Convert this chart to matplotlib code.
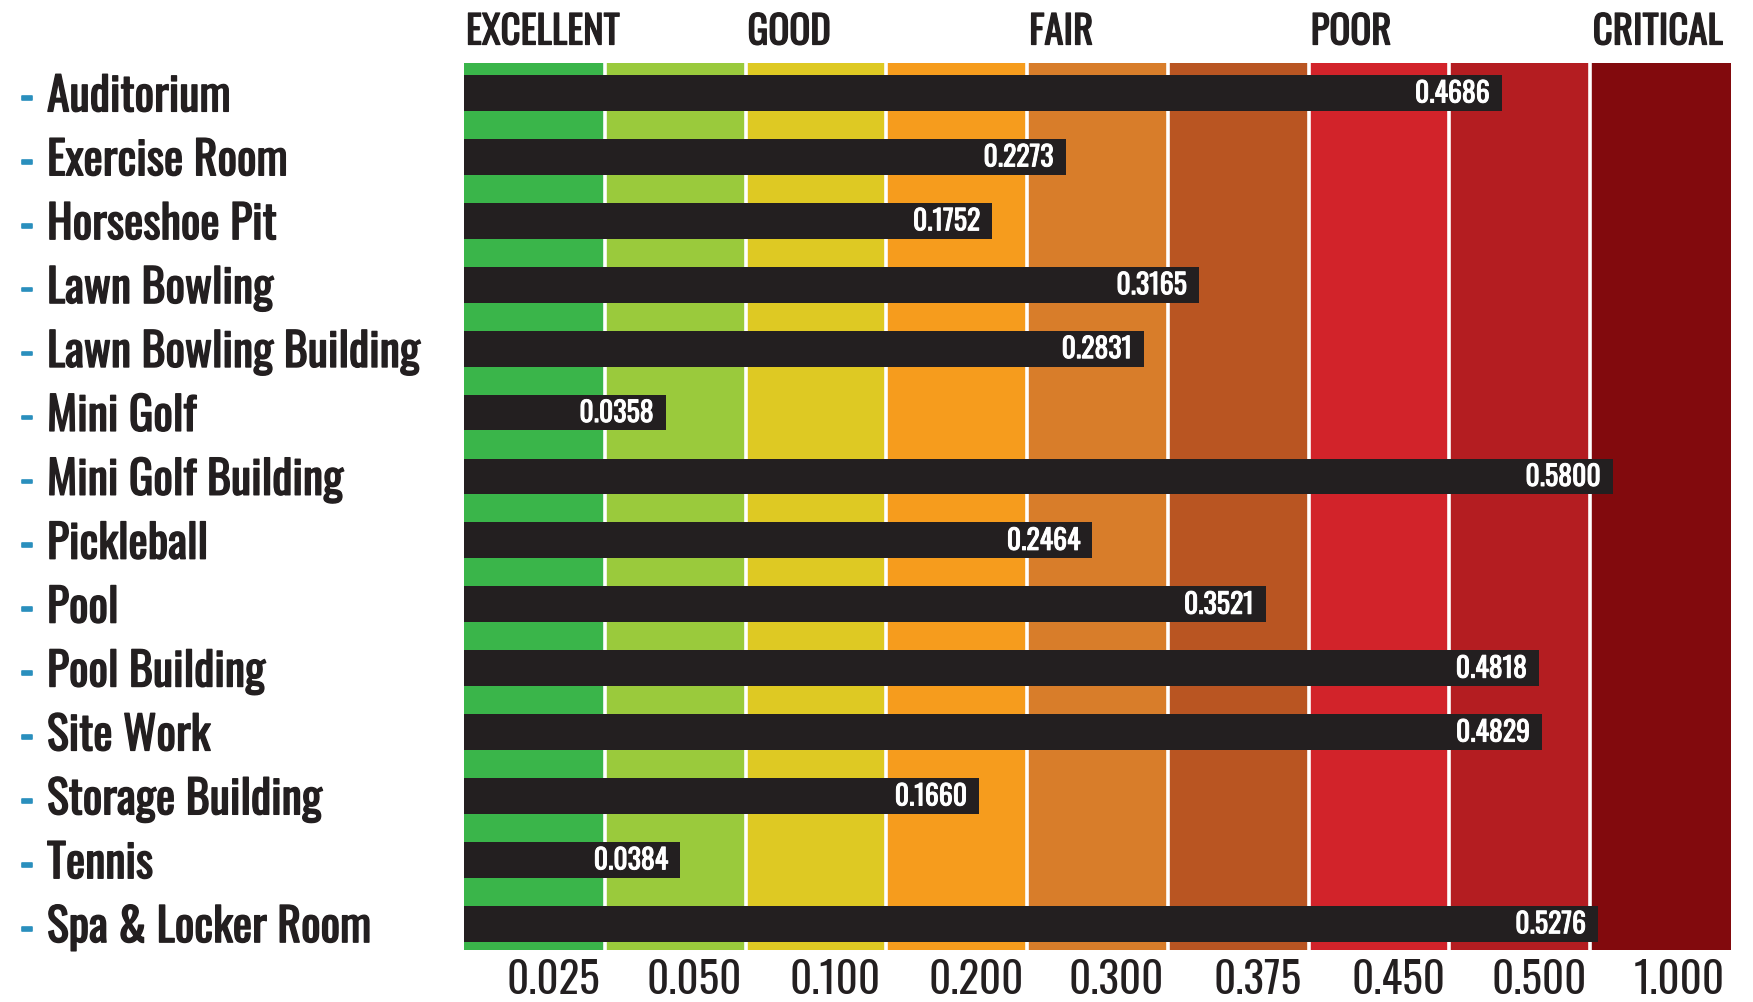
import numpy as np
import matplotlib
matplotlib.use("Agg")
import matplotlib.pyplot as plt
import matplotlib.transforms as mtrans
import matplotlib.patheffects as pe

plt.rcParams['font.family'] = ['Oswald', 'DejaVu Sans']

# data
facilities = ["Auditorium", "Exercise Room", "Horseshoe Pit", "Lawn Bowling",
              "Lawn Bowling Building", "Mini Golf", "Mini Golf Building",
              "Pickleball", "Pool", "Pool Building", "Site Work",
              "Storage Building", "Tennis", "Spa & Locker Room"]
fci = [0.4686, 0.2273, 0.1752, 0.3165, 0.2831, 0.0358, 0.5800,
       0.2464, 0.3521, 0.4818, 0.4829, 0.1660, 0.0384, 0.5276]

band_edges = [0, 0.025, 0.050, 0.100, 0.200, 0.300, 0.375, 0.450, 0.500, 1.000]
band_labels = ["0.025", "0.050", "0.100", "0.200", "0.300", "0.375", "0.450", "0.500", "1.000"]
band_colors = ["#3ab54a", "#9aca3c", "#dec923", "#f69c1d", "#d87d2a",
               "#b95522", "#d2232a", "#b41d21", "#820a0d"]
ratings = ["EXCELLENT", "GOOD", "FAIR", "POOR", "CRITICAL"]
rating_at = [0, 0.050, 0.200, 0.375, 1.000]

ink = '#231f20'
bold = lambda c, w=1.0: [pe.withStroke(linewidth=w, foreground=c)]

idx = np.arange(len(band_edges))
def fwd(x):
    return np.interp(x, band_edges, idx)
def inv(y):
    return np.interp(y, idx, band_edges)

fig = plt.figure(figsize=(17.53, 10.03), dpi=100)
ax = fig.add_axes([464/1753, 1-951/1003, 1267/1753, 887/1003])
ax.set_xscale('function', functions=(fwd, inv))
ax.set_xlim(0, 1)

for i in range(len(band_colors)):
    ax.axvspan(band_edges[i], band_edges[i+1], color=band_colors[i], lw=0, zorder=0)
for b in band_edges[1:-1]:
    ax.axvline(b, color='white', lw=2.6, zorder=1)

y = np.arange(len(facilities))
ax.barh(y, fci, height=0.56, color=ink, zorder=2)
for i, v in enumerate(fci):
    ax.annotate("%.4f" % v, xy=(v, i), xytext=(-12, -1), textcoords='offset pixels',
                ha='right', va='center', color='white', fontsize=20, zorder=3,
                path_effects=bold('white', 0.7))

ax.set_ylim(len(facilities) - 1 + 0.41, -0.47)
ax.set_yticks([])

centers = [inv(i + 0.5) for i in range(len(band_labels))]
ax.set_xticks(centers)
ax.set_xticklabels(band_labels, fontsize=31, color=ink)
ax.tick_params(axis='x', length=0, pad=6)
ax.xaxis.set_minor_locator(matplotlib.ticker.NullLocator())
shift = mtrans.ScaledTranslation(0.19, 0, fig.dpi_scale_trans)
for lab in ax.get_xticklabels():
    lab.set_transform(lab.get_transform() + shift)
for s in ax.spines.values():
    s.set_visible(False)

# category labels
tr = mtrans.blended_transform_factory(fig.transFigure, ax.transData)
for i, name in enumerate(facilities):
    fig.text(20/1753, i + 0.06, "-", transform=tr, color='#2a8fbd', fontsize=32,
             va='center', ha='left', path_effects=bold('#2a8fbd', 1.2))
    fig.text(47/1753, i + 0.06, name, transform=tr, color=ink, fontsize=33,
             va='center', ha='left', path_effects=bold(ink, 1.0))

# rating headers
trh = mtrans.blended_transform_factory(ax.transData, fig.transFigure)
for r, xv in zip(ratings, rating_at):
    ha = 'right' if xv == 1.0 else 'left'
    off = -8 if xv == 1.0 else 2
    ax.annotate(r, xy=(xv, 1-33/1003), xycoords=trh, xytext=(off, 0),
                textcoords='offset pixels', ha=ha, va='center',
                fontsize=28, color=ink, path_effects=bold(ink, 0.9))

fig.savefig("out.png", dpi=100)
